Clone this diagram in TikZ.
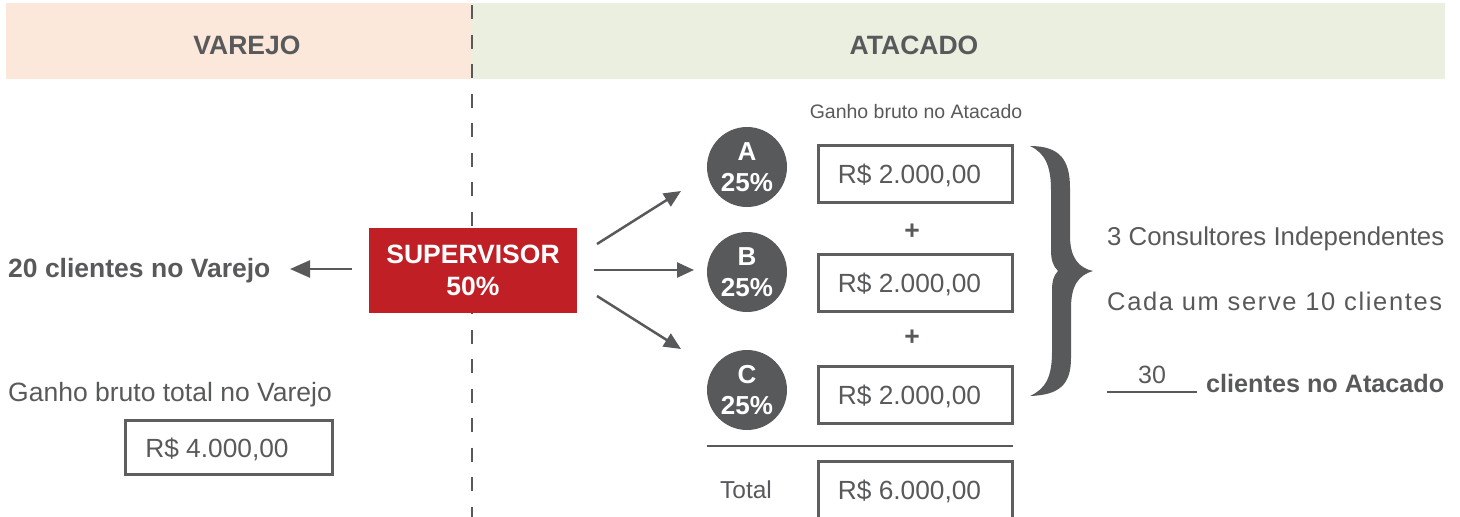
\documentclass[tikz,border=0pt]{standalone}
\usepackage{fontspec}
\setmainfont{Liberation Sans}
\usetikzlibrary{arrows.meta}
\definecolor{dgray}{HTML}{58595B}
\definecolor{boxgray}{HTML}{5E5E5E}
\definecolor{peach}{HTML}{FBE8DB}
\definecolor{sage}{HTML}{EBEFDF}
\definecolor{supred}{HTML}{C01F26}
\begin{document}
\begin{tikzpicture}[x=1pt,y=-1pt,
  hdr/.style={anchor=base, inner sep=0pt, text=dgray, font=\fontsize{26.5}{30}\selectfont\bfseries},
  txt/.style={inner sep=0pt, text=dgray, font=\fontsize{26.5}{30}\selectfont},
  btxt/.style={inner sep=0pt, text=dgray, font=\fontsize{26.5}{30}\selectfont\bfseries},
  circ/.style={circle, fill=dgray, minimum size=80pt, inner sep=0pt, text=white, align=center,
    font=\fontsize{26}{31}\selectfont\bfseries},
  valbox/.style={draw=boxgray, line width=3pt, minimum width=194pt, minimum height=57pt, inner sep=0pt,
    text=dgray, text height=19pt, text depth=0pt, font=\fontsize{26.3}{30}\selectfont},
  arr/.style={draw=dgray, line width=2.5pt, -{Triangle[length=17pt,width=15pt]}},
  rule/.style={draw=dgray, line width=2pt}
]
\useasboundingbox (0,0) rectangle (1460,517);
% header bands
\fill[peach] (6,3) rectangle (472,79);
\fill[sage] (472,3) rectangle (1445,79);
\draw[dgray, line width=2.5pt, dash pattern=on 14pt off 15.5pt] (472,5) -- (472,517);
\node[hdr] (varejo) at (247,54) {VAREJO};
\node[hdr] (atacado) at (914,54) {ATACADO};

% left side
\node[btxt, anchor=base west] (cliV) at (8,277) {20 clientes no Varejo};
\node[draw=none, fill=supred, minimum width=208pt, minimum height=85pt, inner sep=0pt, text=white, align=center,
  font=\fontsize{26.5}{32}\selectfont\bfseries] (sup) at (473,270.5) {SUPERVISOR\\50\%};
\coordinate (lv0) at (352,269);
\coordinate (lv1) at (290,269);
\draw[arr, -{Triangle[length=20pt,width=17pt]}] (lv0) -- (lv1);
\node[txt, anchor=base west] (ganhoV) at (8,401) {Ganho bruto total no Varejo};
\node[valbox, minimum width=207pt, minimum height=54pt] (boxV) at (229,447.5) {\hspace*{-24pt}R\$ 4.000,00};

% consultants
\node[inner sep=0pt, text=dgray, font=\fontsize{19.5}{22}\selectfont, anchor=base] (ganhoA) at (916,118) {Ganho bruto no Atacado};
\node[circ] (A) at (747,167) {A\\25\%};
\node[circ] (B) at (747,272) {B\\25\%};
\node[circ] (C) at (747,390) {C\\25\%};
\node[valbox] (bA) at (915.5,174) {\hspace*{-12pt}R\$ 2.000,00};
\node[valbox] (bB) at (915.5,283) {\hspace*{-12pt}R\$ 2.000,00};
\node[valbox] (bC) at (915.5,394.5) {\hspace*{-12pt}R\$ 2.000,00};
\node[valbox] (bT) at (915.5,490) {\hspace*{-12pt}R\$ 6.000,00};
\node[btxt] (p1) at (912,232) {+};
\node[btxt] (p2) at (912,338) {+};
\coordinate (r0) at (707,446);
\coordinate (r1) at (1013,446);
\draw[rule] (r0) -- (r1);
\node[txt, font=\fontsize{24.5}{30}\selectfont] (total) at (746,490) {Total};

% arrows from supervisor
\coordinate (sa0) at (597,244); \coordinate (sa1) at (681,191);
\coordinate (sb0) at (594,270); \coordinate (sb1) at (694,270);
\coordinate (sc0) at (597,296); \coordinate (sc1) at (681,349);
\draw[arr] (sa0) -- (sa1);
\draw[arr] (sb0) -- (sb1);
\draw[arr] (sc0) -- (sc1);

% brace
\fill[dgray] (1030,146) .. controls (1060,146) and (1070,160) .. (1070,188) -- (1070,236)
  .. controls (1070,258) and (1079,268) .. (1093,271)
  .. controls (1079,275) and (1071,285) .. (1071,308) -- (1071,358)
  .. controls (1071,384) and (1060,395) .. (1030,396)
  .. controls (1045,389) and (1052,378) .. (1052,352) -- (1052,292)
  .. controls (1052,282) and (1053,276) .. (1058,271)
  .. controls (1053,266) and (1051,260) .. (1051,250) -- (1051,190)
  .. controls (1051,166) and (1045,153) .. (1030,146) -- cycle;

% right texts
\node[txt, anchor=base west, font=\fontsize{25.8}{30}\selectfont] (cons) at (1107,245) {3 Consultores Independentes};
\node[txt, anchor=base west, font=\fontsize{25.5}{30}\selectfont\addfontfeature{LetterSpace=6.5}] (cada) at (1107,310) {Cada um serve 10 clientes};
\coordinate (u0) at (1107,392);
\coordinate (u1) at (1197,392);
\draw[rule] (u0) -- (u1);
\node[txt, anchor=base, font=\fontsize{25}{30}\selectfont] (n30) at (1152,383) {30};
\node[btxt, anchor=base west, font=\fontsize{25.2}{30}\selectfont\bfseries] (cliA) at (1206,392) {clientes no Atacado};
\end{tikzpicture}
\end{document}
